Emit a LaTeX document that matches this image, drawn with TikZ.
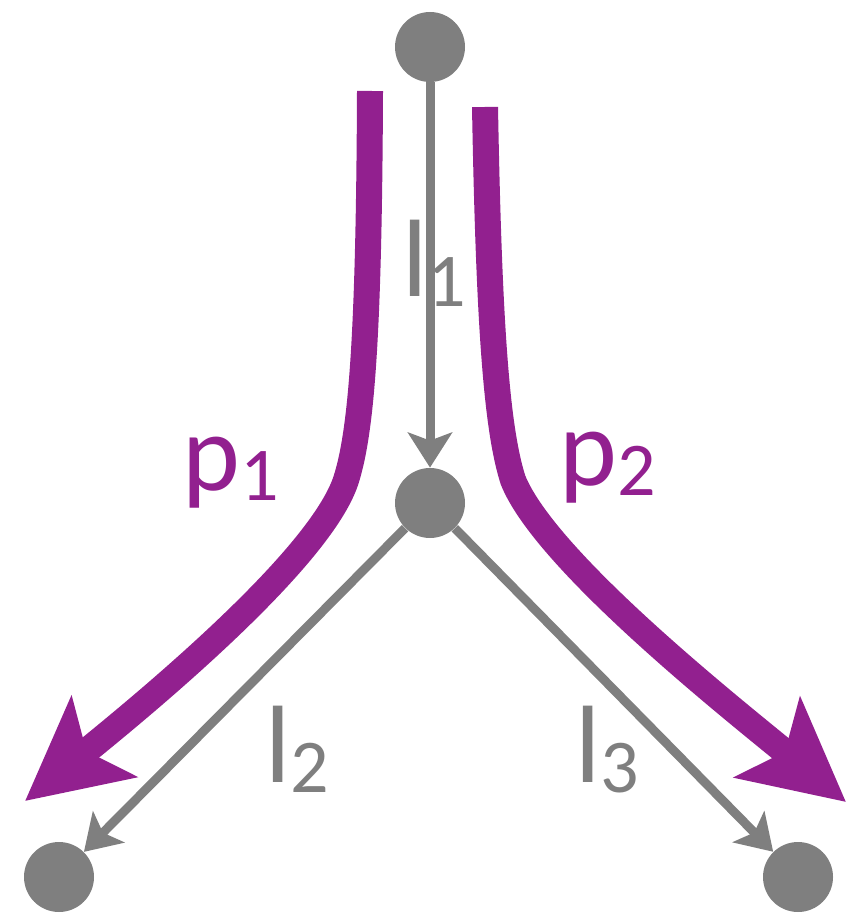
\documentclass[tikz,border=0pt]{standalone}
\usepackage{fontspec}
\setmainfont{Carlito}
\usetikzlibrary{arrows.meta}
\definecolor{routepurple}{RGB}{146,32,143}
\definecolor{linkgray}{RGB}{127,127,127}
\newcommand{\lsub}[2]{#1\raisebox{-5pt}{\fontsize{38}{40}\selectfont #2}}

\begin{document}
\begin{tikzpicture}[x=0.5pt, y=-0.5pt,
  dot/.style={circle, fill=linkgray, minimum size=35pt, inner sep=0pt},
  link/.style={-{Stealth[length=17.5pt, width=22pt, inset=4pt]},
               linkgray, line width=4.5pt},
  route/.style={-{Stealth[length=50.5pt, width=51pt, inset=11pt]},
                routepurple, line width=13pt},
  lbl/.style={anchor=base west, inner sep=0pt,
              font=\fontsize{55}{60}\selectfont}]
  \useasboundingbox (0,0) rectangle (864,913);
  % the two routes, drawn first
  \draw[route] (370,91) .. controls (369,330) and (362,430) .. (346,480)
    .. controls (320,560) and (142,706) .. (25,801);
  \draw[route] (485,107) .. controls (489,330) and (497,430) .. (513,480)
    .. controls (545,560) and (729,706) .. (846,802);
  % nodes
  \node[dot] (v0) at (430,47) {};
  \node[dot] (v1) at (430,503) {};
  \node[dot] (v2) at (59,877) {};
  \node[dot] (v3) at (798,877) {};
  % links
  \draw[link] (v0) -- (v1);
  \draw[link] (v1) -- (v2);
  \draw[link] (v1) -- (v3);
  % labels
  \node[lbl, linkgray] (lab1) at (402,297) {\lsub{l}{1}};
  \node[lbl, linkgray] (lab2) at (265,782) {\lsub{l}{2}};
  \node[lbl, linkgray] (lab3) at (575,782) {\lsub{l}{3}};
  \node[lbl, routepurple] (labp1) at (182,490) {\lsub{p}{1}};
  \node[lbl, routepurple] (labp2) at (559,485) {\lsub{p}{2}};
\end{tikzpicture}
\end{document}
